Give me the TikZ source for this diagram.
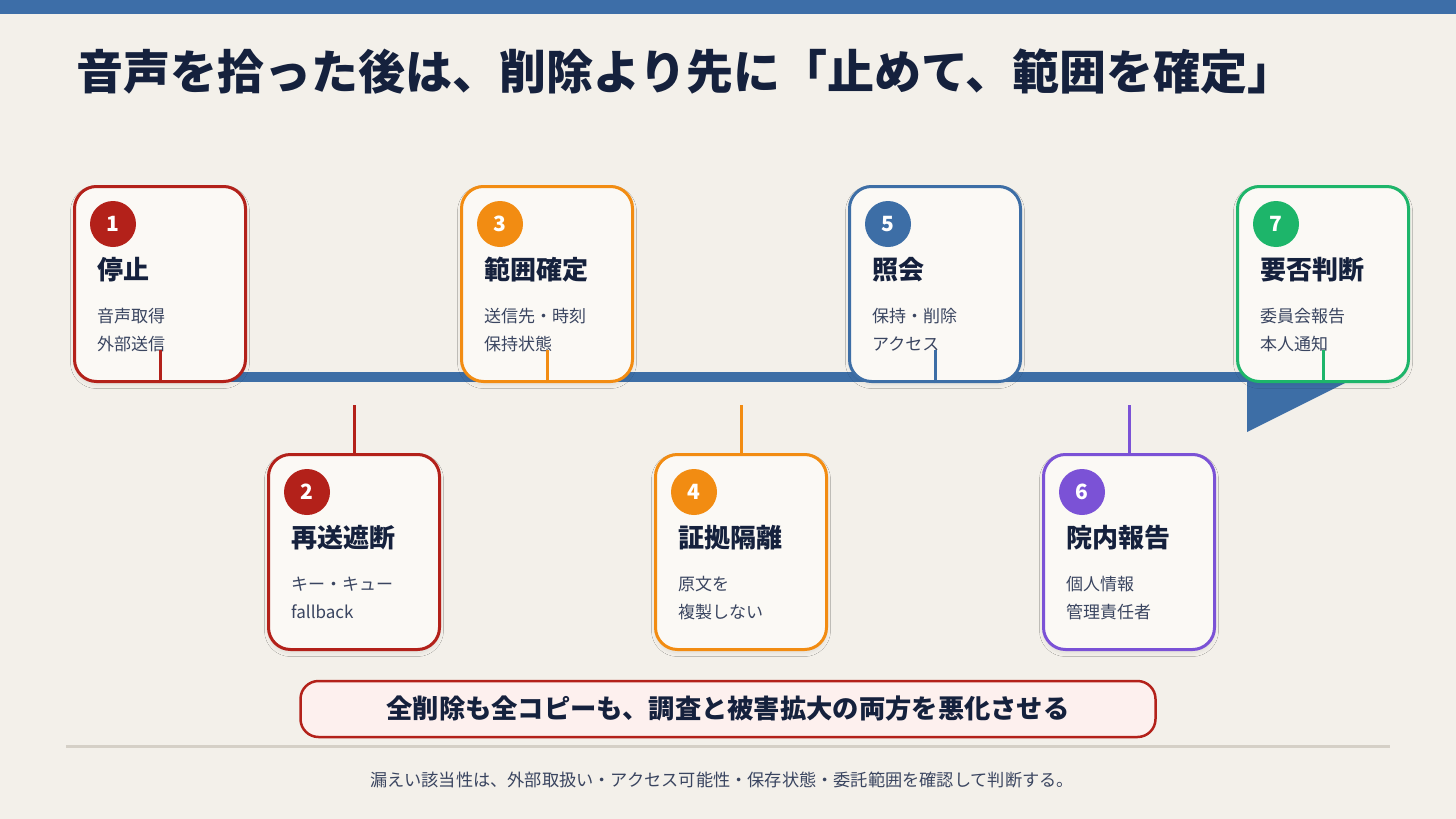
\documentclass[tikz,border=0pt]{standalone}
\usepackage{fontspec}
\setmainfont{Noto Sans CJK JP}
\usetikzlibrary{shadows.blur}
\definecolor{bg}{HTML}{F3F0EA}
\definecolor{topblue}{HTML}{3D6EA8}
\definecolor{cardbg}{HTML}{FBF9F5}
\definecolor{ink}{HTML}{15213D}
\definecolor{subink}{HTML}{3A4560}
\definecolor{cred}{HTML}{B3211A}
\definecolor{corange}{HTML}{F28C12}
\definecolor{cblue}{HTML}{3D6EA6}
\definecolor{cpurple}{HTML}{7B52D6}
\definecolor{cgreen}{HTML}{1DB56A}
\definecolor{warnfill}{HTML}{FDF0EE}
\definecolor{divider}{HTML}{D5D0C7}
\begin{document}
\begin{tikzpicture}[x=1pt,y=-1pt,
  card/.style={draw=#1, line width=3pt, fill=cardbg, rounded corners=22pt,
    minimum width=171pt, minimum height=195pt, inner sep=0pt,
    blur shadow={shadow xshift=0pt, shadow yshift=-3pt, shadow opacity=8, shadow blur radius=4pt, shadow blur steps=8}},
  num/.style={circle, fill=#1, minimum size=46pt, inner sep=0pt, text=white,
    font=\fontsize{21}{21}\selectfont\bfseries},
  ctitle/.style={anchor=west, inner sep=0pt, text=ink, font=\fontsize{26}{26}\selectfont\bfseries},
  csub/.style={anchor=west, inner sep=0pt, text=subink, font=\fontsize{17}{17}\selectfont},
  link/.style={draw=#1, line width=3pt}]
\useasboundingbox (0,0) rectangle (1456,819);
\fill[bg] (0,0) rectangle (1456,819);
\fill[topblue] (0,0) rectangle (1456,14);

% title
\node[anchor=west, inner sep=0pt, text=ink, font=\fontsize{47}{50}\selectfont\bfseries] (title) at (76,72)
  {音声を拾った後は、削除より先に「止めて、範囲を確定」};

% timeline bar
\coordinate (barS) at (160,377);
\coordinate (barE) at (1250,377);
\draw[cblue, line width=10pt] (barS) -- (barE);
\fill[cblue] (1247,322) -- (1247,432) -- (1357,377) -- cycle;

% cards
\node[card=cred]    (c1) at (160,284) {};
\node[card=cred]    (c2) at (354,552) {};
\node[card=corange] (c3) at (547,284) {};
\node[card=corange] (c4) at (741,552) {};
\node[card=cblue]   (c5) at (935,284) {};
\node[card=cpurple] (c6) at (1129,552) {};
\node[card=cgreen]  (c7) at (1323,284) {};

% card 1
\node[num=cred] (n1) at (113,224) {1};
\node[ctitle] (h1) at (97,270) {停止};
\node[csub] (s1a) at (97,316) {音声取得};
\node[csub] (s1b) at (97,344) {外部送信};
% card 2
\node[num=cred] (n2) at (307,492) {2};
\node[ctitle] (h2) at (291,538) {再送遮断};
\node[csub] (s2a) at (291,584) {キー・キュー};
\node[csub] (s2b) at (291,612) {fallback};
% card 3
\node[num=corange] (n3) at (500,224) {3};
\node[ctitle] (h3) at (484,270) {範囲確定};
\node[csub] (s3a) at (484,316) {送信先・時刻};
\node[csub] (s3b) at (484,344) {保持状態};
% card 4
\node[num=corange] (n4) at (694,492) {4};
\node[ctitle] (h4) at (678,538) {証拠隔離};
\node[csub] (s4a) at (678,584) {原文を};
\node[csub] (s4b) at (678,612) {複製しない};
% card 5
\node[num=cblue] (n5) at (888,224) {5};
\node[ctitle] (h5) at (872,270) {照会};
\node[csub] (s5a) at (872,316) {保持・削除};
\node[csub] (s5b) at (872,344) {アクセス};
% card 6
\node[num=cpurple] (n6) at (1082,492) {6};
\node[ctitle] (h6) at (1066,538) {院内報告};
\node[csub] (s6a) at (1066,584) {個人情報};
\node[csub] (s6b) at (1066,612) {管理責任者};
% card 7
\node[num=cgreen] (n7) at (1276,224) {7};
\node[ctitle] (h7) at (1260,270) {要否判断};
\node[csub] (s7a) at (1260,316) {委員会報告};
\node[csub] (s7b) at (1260,344) {本人通知};

% connectors
\coordinate (t1) at (160,350);
\coordinate (t3) at (547,350);
\coordinate (t5) at (935,350);
\coordinate (t7) at (1323,350);
\coordinate (b2) at (354,405);
\coordinate (b4) at (741,405);
\coordinate (b6) at (1129,405);
\draw[link=cred] (c1.south) -- (t1);
\draw[link=corange] (c3.south) -- (t3);
\draw[link=cblue] (c5.south) -- (t5);
\draw[link=cgreen] (c7.south) -- (t7);
\draw[link=cred] (b2) -- (c2.north);
\draw[link=corange] (b4) -- (c4.north);
\draw[link=cpurple] (b6) -- (c6.north);

% callout
\node[draw=cred, line width=2.5pt, fill=warnfill, rounded corners=18pt,
  minimum width=855pt, minimum height=56pt, inner sep=0pt, text=ink,
  font=\fontsize{26.3}{27}\selectfont\bfseries] (warn) at (728,709)
  {全削除も全コピーも、調査と被害拡大の両方を悪化させる};

% divider and footer
\coordinate (dl) at (66,746);
\coordinate (dr) at (1390,746);
\draw[divider, line width=3pt] (dl) -- (dr);
\node[inner sep=0pt, text=subink, font=\fontsize{17.2}{18}\selectfont] (foot) at (722,780)
  {漏えい該当性は、外部取扱い・アクセス可能性・保存状態・委託範囲を確認して判断する。};
\end{tikzpicture}
\end{document}
